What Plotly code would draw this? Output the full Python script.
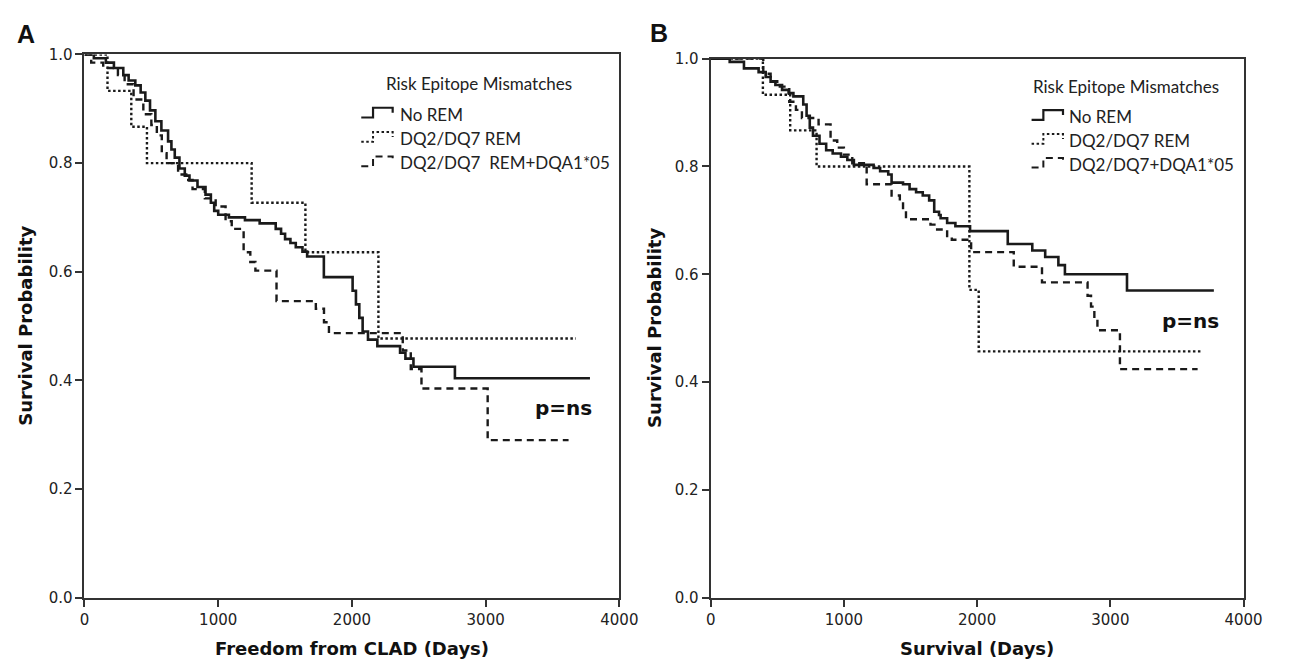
import plotly.graph_objects as go

# ---------------- data (Kaplan-Meier step curves) ----------------
# Panel A: Freedom from CLAD
a_norem_t = [0, 70, 160, 220, 290, 330, 380, 420, 455, 490, 530, 575, 625, 650, 675, 710, 750, 785,
             845, 905, 945, 970, 1000, 1080, 1200, 1310, 1430, 1470, 1500, 1540, 1580, 1630, 1665,
             1790, 2005, 2030, 2055, 2080, 2120, 2190, 2360, 2400, 2460, 2770, 3780]
a_norem_s = [1.0, 0.993, 0.985, 0.975, 0.962, 0.952, 0.943, 0.93, 0.915, 0.897, 0.877, 0.86, 0.84,
             0.825, 0.81, 0.79, 0.777, 0.768, 0.756, 0.742, 0.727, 0.712, 0.705, 0.70, 0.695, 0.689,
             0.679, 0.67, 0.66, 0.653, 0.645, 0.637, 0.628, 0.59, 0.565, 0.54, 0.515, 0.49, 0.475,
             0.463, 0.451, 0.44, 0.425, 0.404, 0.404]

a_dq_t = [0, 172, 350, 467, 1250, 1652, 2198, 3675]
a_dq_s = [1.0, 0.933, 0.867, 0.80, 0.727, 0.636, 0.477, 0.477]

a_dqa_t = [0, 50, 140, 250, 300, 367, 440, 500, 541, 578, 614, 700, 761, 808, 900, 981, 1055, 1101,
           1190, 1240, 1278, 1436, 1730, 1791, 1828, 2380, 2440, 2520, 3015, 3620]
a_dqa_s = [1.0, 0.985, 0.975, 0.962, 0.945, 0.917, 0.89, 0.87, 0.851, 0.818, 0.80, 0.779, 0.769,
           0.752, 0.735, 0.72, 0.693, 0.679, 0.636, 0.618, 0.602, 0.546, 0.532, 0.507, 0.487, 0.455,
           0.421, 0.385, 0.29, 0.29]

# Panel B: Survival
b_norem_t = [0, 143, 250, 360, 413, 450, 486, 536, 585, 621, 695, 720, 744, 768, 817, 867, 916, 978,
             1026, 1075, 1223, 1272, 1333, 1358, 1444, 1493, 1542, 1592, 1640, 1678, 1714, 1726, 1775,
             1837, 1947, 2230, 2414, 2511, 2610, 2659, 3125, 3777]
b_norem_s = [1.0, 0.994, 0.982, 0.975, 0.966, 0.957, 0.951, 0.942, 0.936, 0.93, 0.915, 0.894, 0.872,
             0.857, 0.842, 0.83, 0.824, 0.818, 0.812, 0.803, 0.797, 0.791, 0.785, 0.77, 0.767, 0.758,
             0.752, 0.746, 0.737, 0.716, 0.71, 0.704, 0.695, 0.689, 0.68, 0.656, 0.644, 0.632, 0.617,
             0.60, 0.57, 0.57]

b_dq_t = [0, 392, 597, 795, 1942, 2012, 3677]
b_dq_s = [1.0, 0.933, 0.867, 0.80, 0.571, 0.457, 0.457]

b_dqa_t = [0, 395, 450, 500, 590, 640, 685, 810, 900, 950, 1000, 1063, 1171, 1358, 1420, 1444, 1466,
           1650, 1700, 1775, 1810, 1955, 2275, 2487, 2829, 2855, 2880, 2903, 3072, 3655]
b_dqa_s = [1.0, 0.972, 0.958, 0.948, 0.92, 0.905, 0.89, 0.878, 0.848, 0.835, 0.822, 0.806, 0.767,
           0.746, 0.734, 0.719, 0.702, 0.692, 0.683, 0.671, 0.664, 0.641, 0.614, 0.585, 0.56, 0.54,
           0.518, 0.496, 0.424, 0.424]

x_ticks = [0, 1000, 2000, 3000, 4000]
y_ticks = [0.0, 0.2, 0.4, 0.6, 0.8, 1.0]

legend_title = "Risk Epitope Mismatches"
legend_a = ["No REM", "DQ2/DQ7 REM", "DQ2/DQ7\u00a0\u00a0REM+DQA1*05"]
legend_b = ["No REM", "DQ2/DQ7 REM", "DQ2/DQ7+DQA1*05"]

# ---------------- styling ----------------
W, H = 1293, 668
INK = "#1a1a1a"
STYLES = [dict(color=INK, width=2.6, dash="solid"),
          dict(color=INK, width=2.4, dash="2.5px,2.5px"),
          dict(color=INK, width=2.4, dash="7px,5px")]

def px(x):
    return x / W

def py(y):
    return 1 - y / H

fig = go.Figure()

series_a = [(a_norem_t, a_norem_s), (a_dq_t, a_dq_s), (a_dqa_t, a_dqa_s)]
series_b = [(b_norem_t, b_norem_s), (b_dq_t, b_dq_s), (b_dqa_t, b_dqa_s)]

for (t, s), st, name in zip(series_a, STYLES, legend_a):
    fig.add_trace(go.Scatter(x=t, y=s, mode="lines", line=dict(shape="hv", **st),
                             name=name, showlegend=False, xaxis="x", yaxis="y"))
for (t, s), st, name in zip(series_b, STYLES, legend_b):
    fig.add_trace(go.Scatter(x=t, y=s, mode="lines", line=dict(shape="hv", **st),
                             name=name, showlegend=False, xaxis="x2", yaxis="y2"))

axis_common = dict(showgrid=False, zeroline=False, showline=True, linewidth=2, linecolor="#333",
                   mirror=True, ticks="outside", ticklen=7, tickwidth=1.6, tickcolor="#333",
                   tickfont=dict(family="DejaVu Sans", size=15, color="#222"))

fig.update_layout(
    width=W, height=H, margin=dict(l=0, r=0, t=0, b=0),
    paper_bgcolor="white", plot_bgcolor="white", showlegend=False,
    xaxis=dict(domain=[px(81), px(626)], range=[0, 4000], tickvals=x_ticks, anchor="y",
               **axis_common),
    yaxis=dict(domain=[py(605), py(46.7)], range=[0, 1], tickvals=y_ticks, tickformat=".1f",
               anchor="x", **axis_common),
    xaxis2=dict(domain=[px(719), px(1262)], range=[0, 4000], tickvals=x_ticks, anchor="y2",
                **axis_common),
    yaxis2=dict(domain=[py(605), py(51)], range=[0, 1], tickvals=y_ticks, tickformat=".1f",
                anchor="x2", **axis_common),
)

ann = []
shapes = []

def text(x, y, s, size, family, bold=False, xanchor="center", yanchor="middle", angle=0,
         color="#111"):
    ann.append(dict(x=px(x), y=py(y), xref="paper", yref="paper", showarrow=False,
                    text=f"<b>{s}</b>" if bold else s, xanchor=xanchor, yanchor=yanchor,
                    textangle=angle, font=dict(family=family, size=size, color=color)))

# panel letters
text(21.5, 26, "A", 25, "Liberation Sans", bold=True)
text(666, 25, "B", 25, "Liberation Sans", bold=True)

# axis titles
text(353.5, 657, "Freedom from CLAD (Days)", 18, "DejaVu Sans", bold=True)
text(990.5, 657, "Survival (Days)", 18, "DejaVu Sans", bold=True)
text(21, 326, "Survival Probability", 18, "DejaVu Sans", bold=True, angle=-90)
text(661, 328, "Survival Probability", 18, "DejaVu Sans", bold=True, angle=-90)

# p-values
text(569, 410, "p=ns", 20, "DejaVu Sans", bold=True)
text(1208, 321, "p=ns", 20, "DejaVu Sans", bold=True)

# legends (title + step-shaped glyphs)
def legend(x_title, y_title, x_glyph, x_text, ys, labels):
    text(x_title, y_title, legend_title, 17, "Lato", xanchor="left", color="#222")
    for yc, lab, st in zip(ys, labels, STYLES):
        x0, x1, x2 = x_glyph, x_glyph + 12, x_glyph + 32
        yb, yt, ye = yc + 3.5, yc - 6.5, yc - 1.5
        path = (f"M {px(x0)},{py(yb)} L {px(x1)},{py(yb)} L {px(x1)},{py(yt)} "
                f"L {px(x2)},{py(yt)} L {px(x2)},{py(ye)}")
        shapes.append(dict(type="path", path=path, xref="paper", yref="paper",
                           line=dict(color=INK, width=2.2 if st["dash"] == "solid" else 2.0,
                                     dash=st["dash"])))
        text(x_text, yc, lab, 17, "Lato", xanchor="left", color="#222")

legend(386, 77, 363, 400, [108, 133, 158], legend_a)
legend(1045, 80, 1046, 1082, [110.5, 135, 159.5], legend_b)

fig.update_layout(annotations=ann, shapes=shapes)
fig.write_html("out.html")
